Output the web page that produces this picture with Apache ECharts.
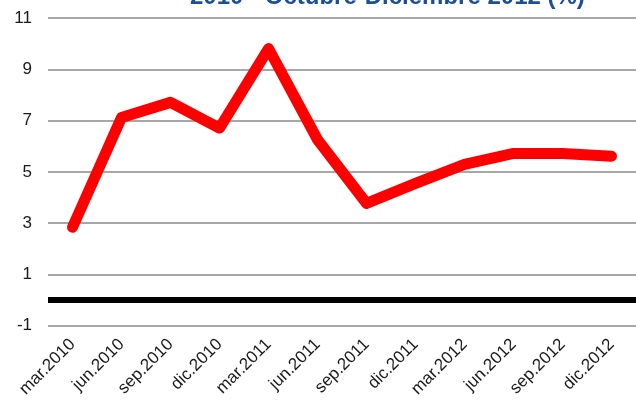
<!DOCTYPE html>
<html>
<head>
<meta charset="utf-8">
<script src="https://cdn.jsdelivr.net/npm/echarts@6/dist/echarts.min.js"></script>
<style>html,body{margin:0;padding:0;background:#fff;}#c{width:636px;height:400px;}</style>
</head>
<body>
<div id="c"></div>
<script>
var categories = ['mar.2010','jun.2010','sep.2010','dic.2010','mar.2011','jun.2011','sep.2011','dic.2011','mar.2012','jun.2012','sep.2012','dic.2012'];
var values = [2.84, 7.12, 7.71, 6.71, 9.81, 6.26, 3.77, 4.55, 5.29, 5.72, 5.72, 5.61];
var titleText = '2010 - Octubre-Diciembre 2012 (%)';
var yMin = -1, yMax = 11, yStep = 2;

var chart = echarts.init(document.getElementById('c'), null, {renderer: 'canvas'});
chart.setOption({
  animation: false,
  backgroundColor: '#ffffff',
  graphic: [{
    type: 'text', left: 190, top: -15, z: 10,
    style: {text: titleText, font: 'bold 24px "Liberation Sans", Arial, sans-serif', fill: '#1a4f99'}
  }],
  grid: {left: 48, right: -6, top: 18, bottom: 73, containLabel: false},
  xAxis: {
    type: 'category', data: categories, boundaryGap: true,
    axisLine: {show: false, onZero: false},
    axisTick: {show: false},
    axisLabel: {interval: 0, rotate: 45, margin: 16, color: '#1a1a1a', fontSize: 17, fontFamily: '"Liberation Sans", Arial, sans-serif'}
  },
  yAxis: {
    type: 'value', min: yMin, max: yMax, interval: yStep,
    axisLine: {show: false}, axisTick: {show: false},
    axisLabel: {margin: 16, color: '#1a1a1a', fontSize: 17, fontFamily: '"Liberation Sans", Arial, sans-serif'},
    splitLine: {lineStyle: {color: '#8a8a8a', width: 1.5}}
  },
  series: [{
    type: 'line', data: values, symbol: 'none',
    lineStyle: {color: '#ff0000', width: 11, cap: 'round', join: 'round'},
    markLine: {
      silent: true, symbol: 'none', label: {show: false},
      lineStyle: {color: '#000000', width: 6, type: 'solid'},
      data: [{yAxis: 0}]
    }
  }]
});
</script>
</body>
</html>
